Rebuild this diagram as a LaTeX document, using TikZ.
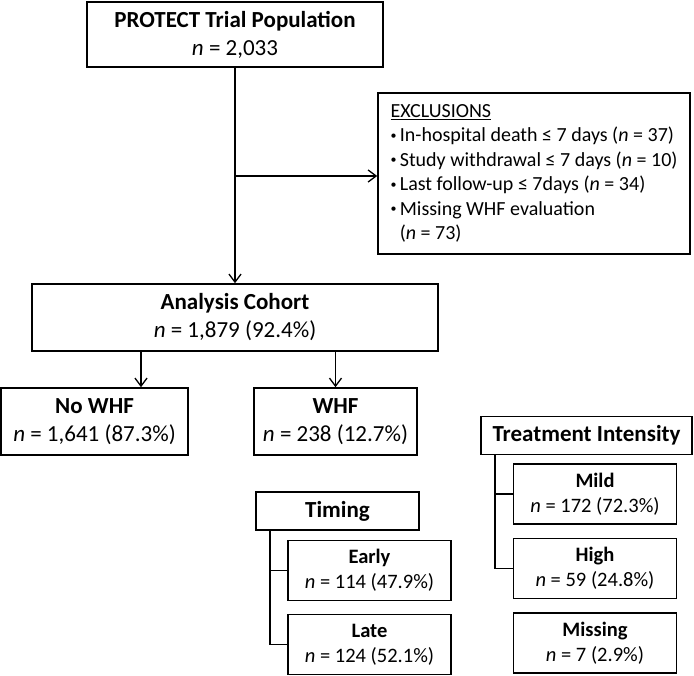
\documentclass[tikz,border=0pt]{standalone}
\usepackage{fontspec}
\setmainfont{Carlito}
\usepackage{tikz}
\usetikzlibrary{arrows.meta, positioning, calc}
\newcommand{\exbullet}{\raisebox{0.28ex}{\fontsize{12}{12}\selectfont\textbullet}\,}
\tikzset{
  mainbox/.style={draw, line width=1.6pt, align=center, inner sep=2pt, font=\fontsize{23}{28}\selectfont},
  subbox/.style={draw, line width=1.6pt, align=center, inner sep=2pt, minimum width=163pt, minimum height=60pt, font=\fontsize{20.5}{25}\selectfont},
  headbox/.style={draw, line width=1.6pt, align=center, inner sep=2pt, minimum height=38pt, font=\fontsize{23}{26}\selectfont\bfseries},
  flow/.style={line width=1.3pt, -{Straight Barb[length=8pt, width=12pt]}},
  branch/.style={line width=1.6pt}
}
\begin{document}
\begin{tikzpicture}[x=1pt, y=-1pt]
        \useasboundingbox (0,0) rectangle (694,676);
        \node[mainbox, minimum width=296pt, minimum height=65pt] (pop) at (235,34.5) {\textbf{PROTECT Trial Population}\\\textit{n} = 2,033};
        \node[draw, line width=1.6pt, align=left, inner sep=2pt, minimum width=312pt, minimum height=161pt, font=\fontsize{20}{24.5}\selectfont] (excl) at (534,173.5)
          {\underline{EXCLUSIONS}\\
           \exbullet In-hospital death ≤ 7 days (\textit{n} = 37)\\
           \exbullet Study withdrawal ≤ 7 days (\textit{n} = 10)\\
           \exbullet Last follow-up ≤ 7days (\textit{n} = 34)\\
           \exbullet Missing WHF evaluation\\
           \hphantom{\exbullet}(\textit{n} = 73)};
        \node[mainbox, minimum width=406pt, minimum height=67pt] (cohort) at (235,317.5) {\textbf{Analysis Cohort}\\\textit{n} = 1,879 (92.4\%)};
        \node[mainbox, minimum width=187pt, minimum height=67pt] (nowhf) at (94.5,421.5) {\textbf{No WHF}\\\textit{n} = 1,641 (87.3\%)};
        \node[mainbox, minimum width=163pt, minimum height=67pt] (whf) at (335.5,421.5) {\textbf{WHF}\\\textit{n} = 238 (12.7\%)};

        % timing branch
        \node[headbox, minimum width=163pt] (timing) at (337.5,511) {Timing};
        \node[subbox] (early) at (369.5,570.5) {\textbf{Early}\\\textit{n} = 114 (47.9\%)};
        \node[subbox] (late) at (369.5,644.5) {\textbf{Late}\\\textit{n} = 124 (52.1\%)};

        % treatment branch
        \node[headbox, minimum width=211pt] (treat) at (586.5,435.5) {Treatment Intensity};
        \node[subbox] (mild) at (595,494) {\textbf{Mild}\\\textit{n} = 172 (72.3\%)};
        \node[subbox] (high) at (595,568.5) {\textbf{High}\\\textit{n} = 59 (24.8\%)};
        \node[subbox] (missing) at (595,643) {\textbf{Missing}\\\textit{n} = 7 (2.9\%)};

        \coordinate (split) at (pop.south |- 0,176);
        \draw[flow] (pop.south) -- (cohort.north);
        \draw[flow] (split) -- (split -| excl.west);
        \draw[flow] ([xshift=46.5pt]nowhf.north |- cohort.south) -- ([xshift=46.5pt]nowhf.north);
        \draw[flow] (whf.north |- cohort.south) -- (whf.north);

        \coordinate (tstem) at ([xshift=15pt]timing.south west);
        \draw[branch] (tstem) |- (early.west);
        \draw[branch] (tstem) |- (late.west);
        \coordinate (istem) at ([xshift=15pt]treat.south west);
        \draw[branch] (istem) |- (mild.west);
        \draw[branch] (istem) |- (high.west);
    \end{tikzpicture}
\end{document}
